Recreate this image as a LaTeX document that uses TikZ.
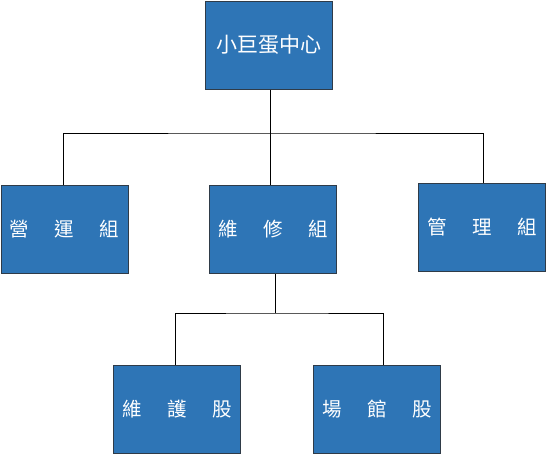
\documentclass[tikz,border=0pt]{standalone}
\usepackage{fontspec}
\newfontfamily\cjk{Noto Sans CJK TC}
\definecolor{boxblue}{HTML}{2E75B6}
\definecolor{boxedge}{HTML}{2F3B48}
\tikzset{
  orgbox/.style={draw=boxedge, fill=boxblue, line width=1pt, minimum width=127pt, minimum height=88pt,
    inner sep=0pt, text=white, font=\cjk\fontsize{19.5pt}{19.5pt}\selectfont, anchor=north west},
  link/.style={draw=black, line width=0.9pt}
}
\newcommand{\gapsp}{\hspace{1.3em}}
\begin{document}
\begin{tikzpicture}[x=1pt,y=-1pt]
\useasboundingbox (0,0) rectangle (548,456);
\node[orgbox, font=\cjk\fontsize{21pt}{21pt}\selectfont] (top) at (204.5,0.5) {小巨蛋中心};
\node[orgbox] (a) at (0.5,185) {營\gapsp 運\gapsp 組};
\node[orgbox] (b) at (209,185) {維\gapsp 修\gapsp 組};
\node[orgbox] (c) at (418,183) {管\gapsp 理\gapsp 組};
\node[orgbox] (d) at (113,365) {維\gapsp 護\gapsp 股};
\node[orgbox] (e) at (313,365) {場\gapsp 館\gapsp 股};
\coordinate (j1) at (270.5,133);
\coordinate (j2) at (275,313);
\draw[link] (j1 |- top.south) -- (j1 |- b.north);
\draw[link] ([xshift=-1.5pt]a.north) |- (j1) -| ([xshift=1pt]c.north);
\draw[link] (j2 |- b.south) -- (j2);
\draw[link] ([xshift=-2pt]d.north) |- (j2) -| ([xshift=6pt]e.north);
\end{tikzpicture}
\end{document}
